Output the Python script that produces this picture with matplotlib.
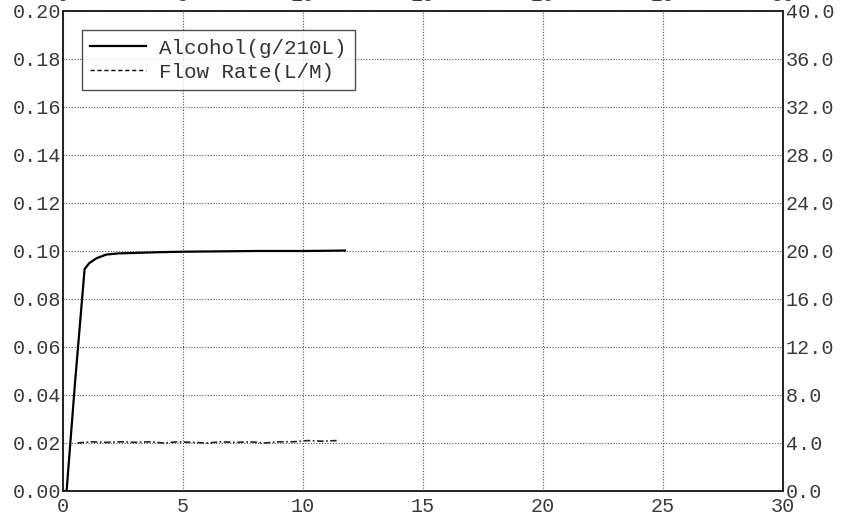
import numpy as np
import matplotlib
matplotlib.use("Agg")
import matplotlib.pyplot as plt

# alcohol trace (g/210L), left axis
alc_t = [0.0, 0.15, 0.5, 0.9, 1.1, 1.4, 1.8, 2.3, 3.0, 4.0, 5.0, 6.0, 7.0, 8.0, 9.0, 10.0, 11.0, 11.75]
alc_v = [0.0, 0.0, 0.045, 0.0925, 0.095, 0.097, 0.0985, 0.0990, 0.0992, 0.0995, 0.0997, 0.0998, 0.0999, 0.1000, 0.1000, 0.1000, 0.1001, 0.1002]

# flow rate (L/M), right axis
flow_t = [0.6, 1.2, 1.8, 2.4, 3.0, 3.6, 4.2, 4.8, 5.4, 6.0, 6.6, 7.2, 7.8, 8.4, 9.0, 9.6, 10.2, 10.8, 11.4]
flow_v = [4.0, 4.1, 4.05, 4.1, 4.05, 4.1, 4.0, 4.1, 4.05, 4.0, 4.1, 4.05, 4.1, 4.0, 4.1, 4.1, 4.2, 4.15, 4.2]

x_ticks = [0, 5, 10, 15, 20, 25, 30]
left_ticks = [0.00, 0.02, 0.04, 0.06, 0.08, 0.10, 0.12, 0.14, 0.16, 0.18, 0.20]
right_ticks = [0, 4, 8, 12, 16, 20, 24, 28, 32, 36, 40]

FONT = "Liberation Mono"
plt.rcParams["font.family"] = [FONT, "DejaVu Sans"]

fig = plt.figure(figsize=(8.41, 5.17), dpi=100)
ax = fig.add_axes([63 / 841, 26 / 517, 720 / 841, 480 / 517])
ax2 = ax.twinx()

ax.plot(alc_t, alc_v, color="black", lw=1.6, label="Alcohol(g/210L)")
ax2.plot(flow_t, flow_v, color="#222222", lw=1.2, ls=(0, (4, 1.5, 1, 1.5)))
ax.plot([], [], color="black", lw=1.0, ls=(0, (3, 2)), label="Flow Rate(L/M)")

ax.set_xlim(0, 30)
ax.set_ylim(0, 0.2)
ax2.set_ylim(0, 40)
ax.set_xticks(x_ticks)
ax.set_yticks(left_ticks)
ax.set_yticklabels([f"{v:.2f}" for v in left_ticks])
ax2.set_yticks(right_ticks)
ax2.set_yticklabels([f"{v:.1f}" for v in right_ticks])

ax.grid(True, color="#555555", ls=(0, (1, 1.5)), lw=0.8)
ax.tick_params(axis="both", length=0, labelsize=14.5, colors="#3a3a3a", pad=1)
ax.tick_params(axis="x", top=True, labeltop=True, pad=4)
ax2.tick_params(axis="y", length=0, labelsize=14.5, colors="#3a3a3a", pad=2)
for a in (ax, ax2):
    for s in a.spines.values():
        s.set_color("#222222")
        s.set_linewidth(1.2)

leg = ax.legend(loc="upper left", bbox_to_anchor=(0.026, 0.96), fontsize=15,
                frameon=True, fancybox=False, edgecolor="#222222",
                handlelength=2.7, borderpad=0.4, labelspacing=0.25,
                handletextpad=0.6, borderaxespad=0)
leg.get_frame().set_linewidth(1.0)
for t in leg.get_texts():
    t.set_color("#333333")

fig.savefig("out.png", dpi=100)
